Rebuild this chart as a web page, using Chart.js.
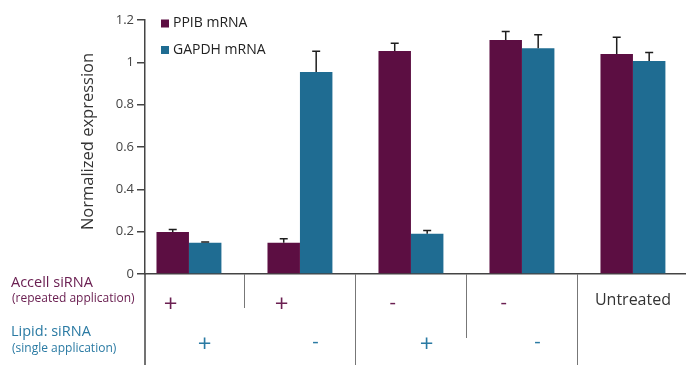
<!DOCTYPE html>
<html>
<head>
<meta charset="utf-8">
<script src="https://cdn.jsdelivr.net/npm/chart.js@4.4.1/dist/chart.umd.min.js"></script>
<style>
  html, body { margin: 0; padding: 0; background: #fff; }
  #wrap { width: 686px; height: 365px; position: relative; }
</style>
</head>
<body>
<div id="wrap"><canvas id="exprChart"></canvas></div>
<script>
// data
const groups = ['Accell +', 'Accell + / Lipid -', 'Lipid +', 'Lipid -', 'Untreated'];
const ppib = [0.198, 0.148, 1.053, 1.105, 1.039];
const ppibErr = [0.012, 0.019, 0.037, 0.041, 0.079];
const gapdh = [0.148, 0.954, 0.19, 1.067, 1.006];
const gapdhErr = [0.003, 0.098, 0.016, 0.063, 0.041];
const yTicks = [0, 0.2, 0.4, 0.6, 0.8, 1, 1.2];
const accellRow = ['+', '+', '-', '-', 'Untreated'];
const lipidRow = ['+', '-', '+', '-', ''];

const PURPLE = '#5c0e42';
const TEAL = '#1f6c92';
const FONT = '"Open Sans", "Noto Sans", sans-serif';

const toPoints = arr => arr.map((v, i) => ({ x: i, y: v }));

// error bars, legend, axis title and the table under the chart
const extras = {
    id: 'extras',
    afterDatasetsDraw(chart) {
        const { ctx, scales: { y } } = chart;
        const errs = [ppibErr, gapdhErr];
        ctx.save();
        ctx.strokeStyle = '#1e1e1e';
        ctx.lineWidth = 1.5;
        chart.data.datasets.forEach((ds, di) => {
            const meta = chart.getDatasetMeta(di);
            meta.data.forEach((bar, i) => {
                const top = y.getPixelForValue(ds.data[i].y + errs[di][i]);
                ctx.beginPath();
                ctx.moveTo(bar.x, bar.y);
                ctx.lineTo(bar.x, top);
                ctx.moveTo(bar.x - 4, top);
                ctx.lineTo(bar.x + 4, top);
                ctx.stroke();
            });
        });
        ctx.restore();
    },
    afterDraw(chart) {
        const { ctx, scales: { x, y }, chartArea } = chart;
        const base = y.getPixelForValue(0);
        ctx.save();

        // legend
        const items = [['PPIB mRNA', PURPLE], ['GAPDH mRNA', TEAL]];
        ctx.font = '14px ' + FONT;
        ctx.textBaseline = 'middle';
        items.forEach((it, k) => {
            const cy = 23.5 + k * 26.5;
            ctx.fillStyle = it[1];
            ctx.fillRect(161, cy - 4, 8, 8);
            ctx.fillStyle = '#222';
            ctx.textAlign = 'left';
            ctx.fillText(it[0], 173, cy);
        });

        // y title
        ctx.save();
        ctx.translate(88, 141.5);
        ctx.rotate(-Math.PI / 2);
        ctx.font = '16.5px ' + FONT;
        ctx.fillStyle = '#333';
        ctx.textAlign = 'center';
        ctx.fillText('Normalized expression', 0, 0);
        ctx.restore();

        // y axis carried down through the table
        ctx.strokeStyle = '#444';
        ctx.lineWidth = 1.5;
        ctx.beginPath();
        ctx.moveTo(chartArea.left, base);
        ctx.lineTo(chartArea.left, 365);
        ctx.stroke();

        // separators between groups
        const sepLen = [34, 91, 64, 91];
        ctx.strokeStyle = '#777';
        ctx.lineWidth = 1;
        sepLen.forEach((len, i) => {
            const sx = Math.round(x.getPixelForValue(i + 0.5)) + 0.5;
            ctx.beginPath();
            ctx.moveTo(sx, base);
            ctx.lineTo(sx, base + len);
            ctx.stroke();
        });

        // row labels
        ctx.textAlign = 'left';
        ctx.fillStyle = '#6b2052';
        ctx.font = '14.5px ' + FONT;
        ctx.fillText('Accell siRNA', 11, 283);
        ctx.font = '12px ' + FONT;
        ctx.fillText('(repeated application)', 12, 299);
        ctx.fillStyle = '#2a7aa3';
        ctx.font = '14.5px ' + FONT;
        ctx.fillText('Lipid: siRNA', 11, 332);
        ctx.font = '12px ' + FONT;
        ctx.fillText('(single application)', 12, 349);

        // table marks
        ctx.textAlign = 'center';
        accellRow.forEach((t, i) => {
            if (t === 'Untreated') {
                ctx.fillStyle = '#333';
                ctx.font = '16px ' + FONT;
                ctx.fillText(t, x.getPixelForValue(i), 300);
            } else {
                ctx.fillStyle = '#6b2052';
                ctx.font = (t === '+' ? '24px ' : '20px ') + FONT;
                ctx.fillText(t, x.getPixelForValue(i - 0.165), t === '+' ? 305 : 303);
            }
        });
        lipidRow.forEach((t, i) => {
            ctx.fillStyle = '#2a7aa3';
            ctx.font = (t === '+' ? '24px ' : '20px ') + FONT;
            ctx.fillText(t, x.getPixelForValue(i + 0.14), t === '+' ? 345 : 342);
        });
        ctx.restore();
    }
};

new Chart(document.getElementById('exprChart'), {
    type: 'bar',
    data: {
        labels: groups,
        datasets: [
            { label: 'PPIB mRNA', data: toPoints(ppib), backgroundColor: PURPLE },
            { label: 'GAPDH mRNA', data: toPoints(gapdh), backgroundColor: TEAL }
        ]
    },
    options: {
        responsive: true,
        maintainAspectRatio: false,
        animation: false,
        categoryPercentage: 0.585,
        barPercentage: 1,
        layout: { padding: { left: 0, right: 0, top: 20, bottom: 91 } },
        plugins: { legend: { display: false }, tooltip: { enabled: false } },
        scales: {
            x: {
                type: 'linear',
                offset: false,
                min: -0.396,
                max: 4.478,
                afterBuildTicks(s) { s.ticks = groups.map((g, i) => ({ value: i })); },
                grid: { display: false, offset: false },
                ticks: { display: false },
                border: { color: '#444', width: 1.5 },
                afterFit(s) { s.height = 0; }
            },
            y: {
                min: 0,
                max: 1.2,
                afterBuildTicks(s) { s.ticks = yTicks.map(v => ({ value: v })); },
                grid: { drawOnChartArea: false, drawTicks: true, tickLength: 8, color: '#444', lineWidth: 1.5 },
                border: { color: '#444', width: 1.5 },
                ticks: {
                    color: '#444',
                    padding: 3,
                    font: { size: 13, family: FONT },
                    callback: v => String(v)
                },
                afterFit(s) { s.width = 145; }
            }
        }
    },
    plugins: [extras]
});
</script>
</body>
</html>
